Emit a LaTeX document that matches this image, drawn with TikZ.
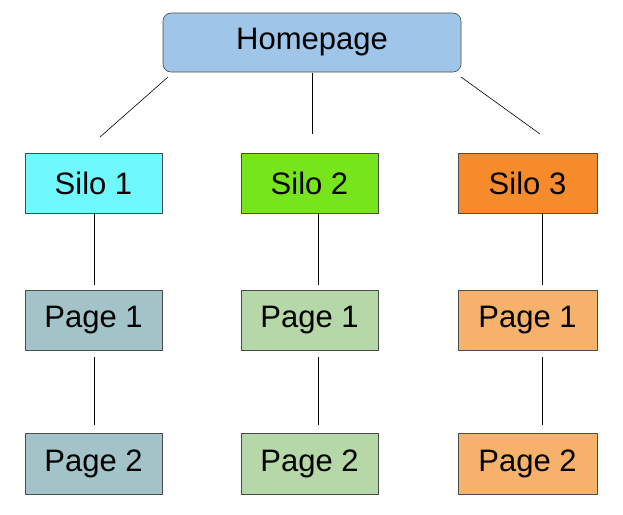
\documentclass[tikz,border=0pt]{standalone}
\usepackage{fontspec}
\setmainfont{Liberation Sans}
\begin{document}
\begin{tikzpicture}[x=1pt,y=-1pt,
  box/.style={draw=black!70,line width=0.6pt,inner sep=0pt,font=\fontsize{31}{31}\selectfont},
  ln/.style={draw=black,line width=0.6pt}]
\useasboundingbox (0,0) rectangle (623,514);
\definecolor{hp}{HTML}{9FC5E8}
\definecolor{s1}{HTML}{6FF9FF}
\definecolor{s2}{HTML}{76E51B}
\definecolor{s3}{HTML}{F58B2B}
\definecolor{p1}{HTML}{A2C4C9}
\definecolor{p2}{HTML}{B6D7A8}
\definecolor{p3}{HTML}{F6B26B}
\node[box,rounded corners=8pt,fill=hp,minimum width=298pt,minimum height=59pt] (home) at (312,42.5) {Homepage};
\node[box,fill=s1,minimum width=137pt,minimum height=60pt] (silo1) at (93.5,183) {Silo 1};
\node[box,fill=s2,minimum width=137pt,minimum height=60pt] (silo2) at (309.5,183) {Silo 2};
\node[box,fill=s3,minimum width=139pt,minimum height=60pt] (silo3) at (527.5,183) {Silo 3};
\node[box,fill=p1,minimum width=137pt,minimum height=60pt] (a1) at (93.5,320) {Page 1};
\node[box,fill=p2,minimum width=137pt,minimum height=60pt] (b1) at (309.5,320) {Page 1};
\node[box,fill=p3,minimum width=139pt,minimum height=60pt] (c1) at (527.5,320) {Page 1};
\node[box,fill=p1,minimum width=137pt,minimum height=61pt] (a2) at (93.5,463.5) {Page 2};
\node[box,fill=p2,minimum width=137pt,minimum height=61pt] (b2) at (309.5,463.5) {Page 2};
\node[box,fill=p3,minimum width=139pt,minimum height=61pt] (c2) at (527.5,463.5) {Page 2};
\coordinate (h1) at (168,77); \coordinate (t1) at (100,137);
\coordinate (h2) at (312,73); \coordinate (t2) at (312,134);
\coordinate (h3) at (461,77); \coordinate (t3) at (540,134);
\draw[ln] (h1) -- (t1);
\draw[ln] (h2) -- (t2);
\draw[ln] (h3) -- (t3);
\draw[ln] (94,213) -- (94,285);
\draw[ln] (318,213) -- (318,285);
\draw[ln] (542,213) -- (542,285);
\draw[ln] (94,357) -- (94,425);
\draw[ln] (318,357) -- (318,425);
\draw[ln] (542,357) -- (542,425);
\end{tikzpicture}
\end{document}
